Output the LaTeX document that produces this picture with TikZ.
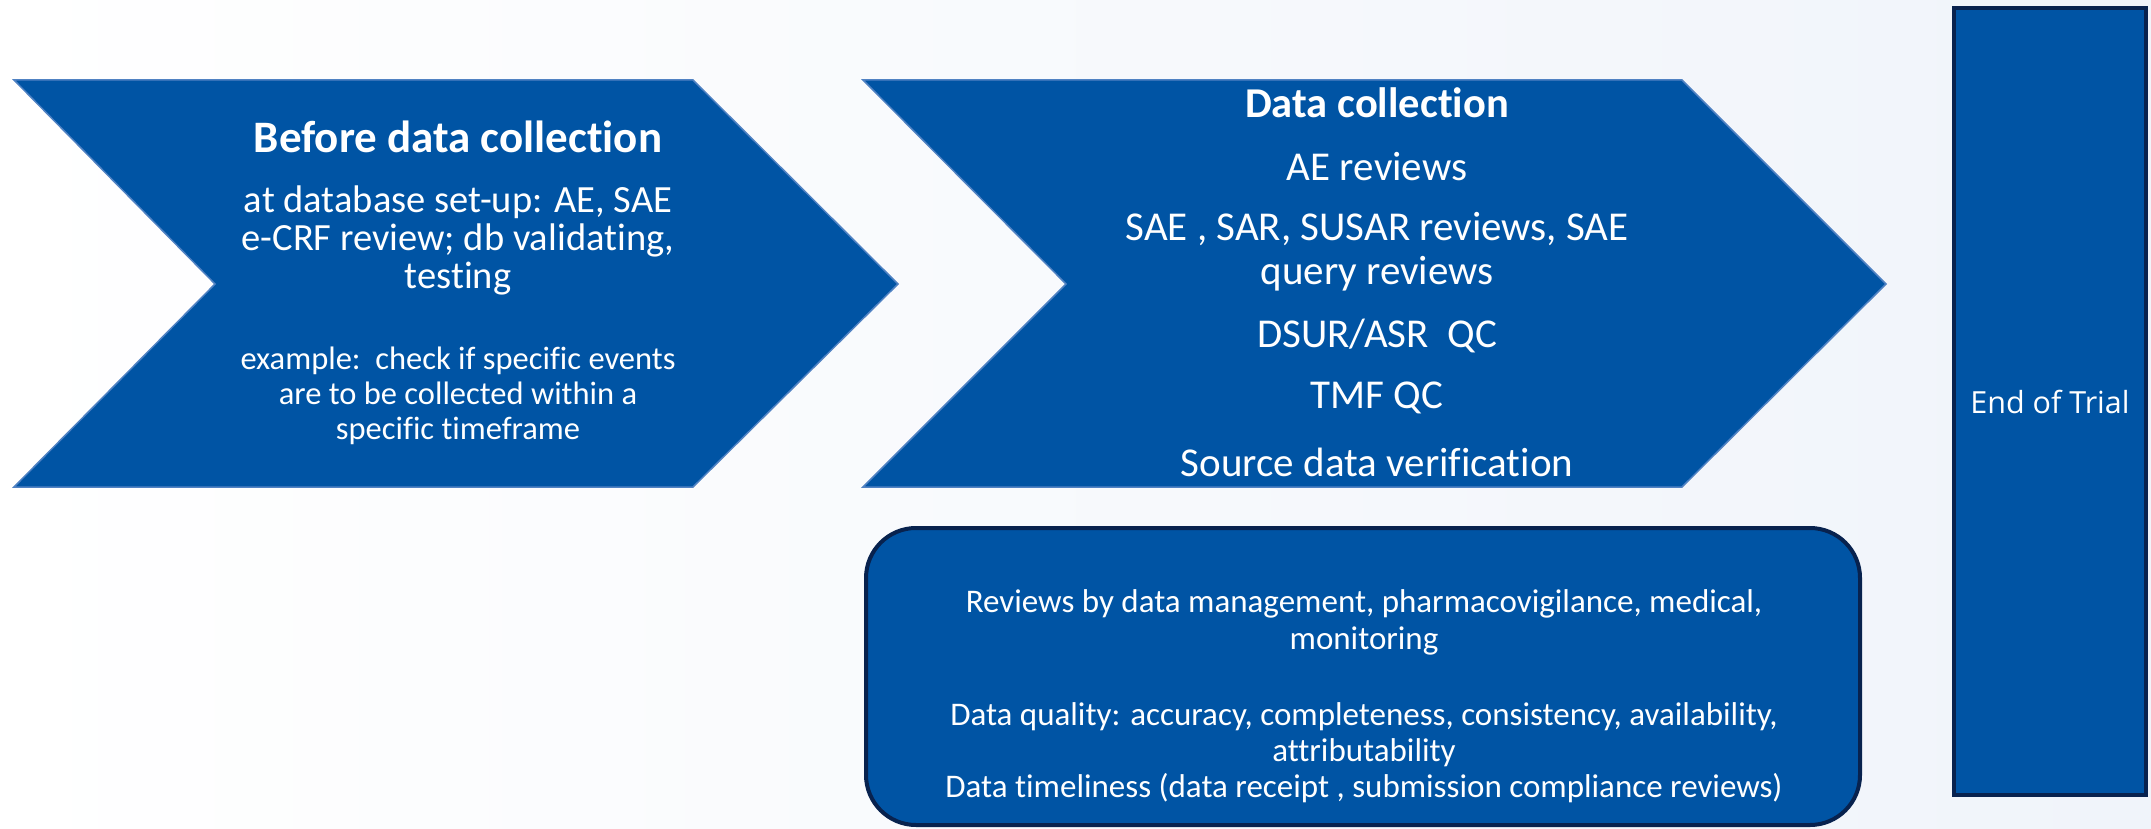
\documentclass[tikz,border=0pt]{standalone}
\usepackage{fontspec}
\setmainfont{Carlito}[Ligatures=NoCommon]
\newfontfamily\eotfont{Open Sans}
\definecolor{mainblue}{RGB}{0,84,164}
\definecolor{navy}{RGB}{8,34,78}
\definecolor{edgeblue}{RGB}{80,130,195}
\definecolor{bgright}{RGB}{240,244,250}
\newcommand{\fs}[2]{\fontsize{#1}{#2}\selectfont}
\tikzset{
  chev/.style={fill=mainblue, draw=edgeblue, line width=1.5pt, line join=miter},
  panel/.style={fill=mainblue, draw=navy, line width=4pt},
  txt/.style={text=white, align=center, inner sep=0pt},
}
\begin{document}
\begin{tikzpicture}[x=1pt,y=-1pt]
\useasboundingbox (0,0) rectangle (2151,829);
\shade[left color=white, right color=bgright] (0,0) rectangle (2151,829);

% chevrons
\draw[chev] (14,80) -- (693,80) -- (898,284) -- (693,487) -- (14,487) -- (215,284) -- cycle;
\draw[chev] (863,80) -- (1682,80) -- (1886,284) -- (1682,487) -- (863,487) -- (1066,284) -- cycle;

% rounded box
\draw[panel, rounded corners=50pt] (866,528) rectangle (1860,825);

% end of trial
\draw[panel] (1954,8) rectangle (2146,795);

% chevron 1 text
\node[txt, font=\bfseries\fs{45}{50}] (t1) at (458,137) {Before data collection};
\node[txt, font=\fs{38.5}{38}] (t1a) at (458,240) {at database set-up: AE, SAE\\e-CRF review; db validating,\\testing};
\node[txt, font=\fs{32.5}{35}] (t1b) at (458,396) {example:\ \ check if specific events\\are to be collected within a\\specific timeframe};

% chevron 2 text
\node[txt, font=\bfseries\fs{42.5}{44}] (t2) at (1377,103) {Data collection};
\node[txt, font=\fs{41}{44}] (t2a) at (1377,167) {AE reviews};
\node[txt, font=\fs{41}{44}] (t2b) at (1377,252) {SAE , SAR, SUSAR reviews, SAE\\query reviews};
\node[txt, font=\fs{41}{44}] (t2c) at (1377,336) {DSUR/ASR\ \ QC};
\node[txt, font=\fs{41}{44}] (t2d) at (1377,398) {TMF QC};
\node[txt, font=\fs{41}{44}] (t2e) at (1377,462) {Source data verification};

% box text
\node[txt, font=\fs{33}{37}] (b1) at (1364,622) {Reviews by data management, pharmacovigilance, medical,\\monitoring};
\node[txt, font=\fs{33}{36}] (b2) at (1364,753) {Data quality: accuracy, completeness, consistency, availability,\\attributability\\Data timeliness (data receipt , submission compliance reviews)};

% end of trial text
\node[txt, font=\eotfont\fs{30.5}{34}] (eot) at (2050,402) {End of Trial};
\end{tikzpicture}
\end{document}
